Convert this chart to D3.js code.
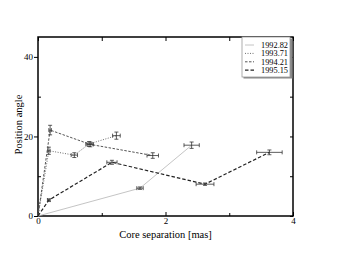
<!DOCTYPE html>
<html>
<head>
<meta charset="utf-8">
<script src="https://cdn.jsdelivr.net/npm/d3@7"></script>
<style>
body{margin:0;background:#fff;}
text{font-family:"Liberation Serif","DejaVu Serif",serif;}
</style>
</head>
<body>
<div id="chart"></div>
<script>
var svgW=339, svgH=262;
var margin={top:37,left:38,right:46,bottom:46};
var chartW=svgW-margin.left-margin.right;
var chartH=svgH-margin.top-margin.bottom;

// epochs
var epochs=['1992.82','1993.71','1994.21','1995.15'];
// core separation [mas], position angle [deg], errors
var sep92=[0,1.6,2.41], pa92=[0,7.0,17.8], xe92=[0,0.05,0.12], ye92=[0,0.3,0.8];
var sep93=[0,0.17,0.57,0.8,1.23], pa93=[0,16.4,15.3,18.1,20.2], xe93=[0,0.02,0.05,0.05,0.06], ye93=[0,0.9,0.6,0.6,0.9];
var sep94=[0,0.19,0.82,1.8], pa94=[0,21.6,18.0,15.2], xe94=[0,0.02,0.05,0.09], ye94=[0,1.2,0.6,0.7];
var sep95=[0,0.17,1.16,2.62,3.63], pa95=[0,4.0,13.5,8.0,16.0], xe95=[0,0.02,0.08,0.14,0.2], ye95=[0,0.3,0.5,0.3,0.6];

var xTicks=[0,2,4], xMinor=[1,3];
var yTicks=[0,20,40], yMinor=[10,30];

var series=[
  {name:epochs[0],x:sep92,y:pa92,xe:xe92,ye:ye92,color:'#bdbdbd',dash:null,w:0.9},
  {name:epochs[1],x:sep93,y:pa93,xe:xe93,ye:ye93,color:'#6e6e6e',dash:'1,1.5',w:1},
  {name:epochs[2],x:sep94,y:pa94,xe:xe94,ye:ye94,color:'#555',dash:'2.5,1.5',w:1},
  {name:epochs[3],x:sep95,y:pa95,xe:xe95,ye:ye95,color:'#222',dash:'3.5,2',w:1.2}
];

var svg=d3.select('#chart').append('svg')
  .attr('width',svgW)
  .attr('height',svgH);
var chart=svg.append('g')
  .attr('transform',`translate(${margin.left},${margin.top})`);

var xscale=d3.scaleLinear().domain([0,4]).range([0,chartW]);
var yscale=d3.scaleLinear().domain([0,45]).range([chartH,0]);

// axes: ticks pointing inward, labels outside
chart.append('g').attr('transform',`translate(0,${chartH})`)
  .call(d3.axisBottom(xscale).tickValues(xTicks).tickSize(-4).tickPadding(2).tickFormat(d3.format('d')));
chart.append('g').attr('transform',`translate(0,${chartH})`)
  .call(d3.axisBottom(xscale).tickValues(xMinor).tickSize(-3).tickFormat(''));
chart.append('g')
  .call(d3.axisTop(xscale).tickValues(xTicks.concat(xMinor)).tickSize(-4).tickFormat(''));
chart.append('g')
  .call(d3.axisLeft(yscale).tickValues(yTicks).tickSize(4).tickPadding(1).tickFormat(d3.format('d')));
chart.append('g')
  .call(d3.axisLeft(yscale).tickValues(yMinor).tickSize(-3).tickFormat(''));
chart.append('g').attr('transform',`translate(${chartW},0)`)
  .call(d3.axisRight(yscale).tickValues(yTicks.concat(yMinor)).tickSize(-3).tickFormat(''));

chart.selectAll('.domain').remove();
chart.selectAll('.tick line').attr('stroke','#000').attr('stroke-width',1);
chart.selectAll('.tick text').attr('font-size',9).attr('fill','#000')
  .style('font-family','"Liberation Serif",serif');

// frame
chart.append('rect')
  .attr('width',chartW).attr('height',chartH)
  .attr('fill','none').attr('stroke','#000').attr('stroke-width',1.5);

var line=d3.line().x(d=>xscale(d[0])).y(d=>yscale(d[1]));

series.forEach(function(s){
  var pts=s.x.map((v,i)=>[v,s.y[i],s.xe[i],s.ye[i]]);
  chart.append('path')
    .attr('d',line(pts))
    .attr('fill','none')
    .attr('stroke',s.color)
    .attr('stroke-width',s.w)
    .attr('stroke-dasharray',s.dash);
  var g=chart.append('g').attr('stroke','#333').attr('stroke-width',0.8);
  pts.slice(1).forEach(function(p){
    var cx=xscale(p[0]), cy=yscale(p[1]);
    var x0=xscale(p[0]-p[2]), x1=xscale(p[0]+p[2]);
    var y0=yscale(p[1]-p[3]), y1=yscale(p[1]+p[3]);
    g.append('line').attr('x1',x0).attr('x2',x1).attr('y1',cy).attr('y2',cy);
    g.append('line').attr('x1',x0).attr('x2',x0).attr('y1',cy-2).attr('y2',cy+2);
    g.append('line').attr('x1',x1).attr('x2',x1).attr('y1',cy-2).attr('y2',cy+2);
    g.append('line').attr('x1',cx).attr('x2',cx).attr('y1',y0).attr('y2',y1);
    g.append('line').attr('x1',cx-2).attr('x2',cx+2).attr('y1',y0).attr('y2',y0);
    g.append('line').attr('x1',cx-2).attr('x2',cx+2).attr('y1',y1).attr('y2',y1);
  });
});

// legend
var lg=chart.append('g').attr('transform',`translate(${chartW-51},0)`);
lg.append('rect').attr('x',1.5).attr('y',1.5).attr('width',49).attr('height',40).attr('fill','#888');
lg.append('rect').attr('x',0).attr('y',0).attr('width',48).attr('height',40)
  .attr('fill','#fff').attr('stroke','#999').attr('stroke-width',0.8);
series.forEach(function(s,i){
  var y=8+i*8.4;
  lg.append('line').attr('x1',3).attr('x2',12).attr('y1',y).attr('y2',y)
    .attr('stroke',s.color).attr('stroke-width',s.w).attr('stroke-dasharray',s.dash);
  lg.append('text').attr('x',46).attr('y',y+2.8).attr('text-anchor','end')
    .attr('font-size',8.3).text(s.name);
});

// axis labels
chart.append('text')
  .attr('x',chartW/2).attr('y',chartH+22)
  .attr('text-anchor','middle').attr('font-size',10.5)
  .text('Core separation [mas]');
chart.append('text')
  .attr('transform','rotate(-90)')
  .attr('x',-(chartH/2)+2).attr('y',-16)
  .attr('text-anchor','middle').attr('font-size',10.5)
  .text('Position angle');
</script>
</body>
</html>
